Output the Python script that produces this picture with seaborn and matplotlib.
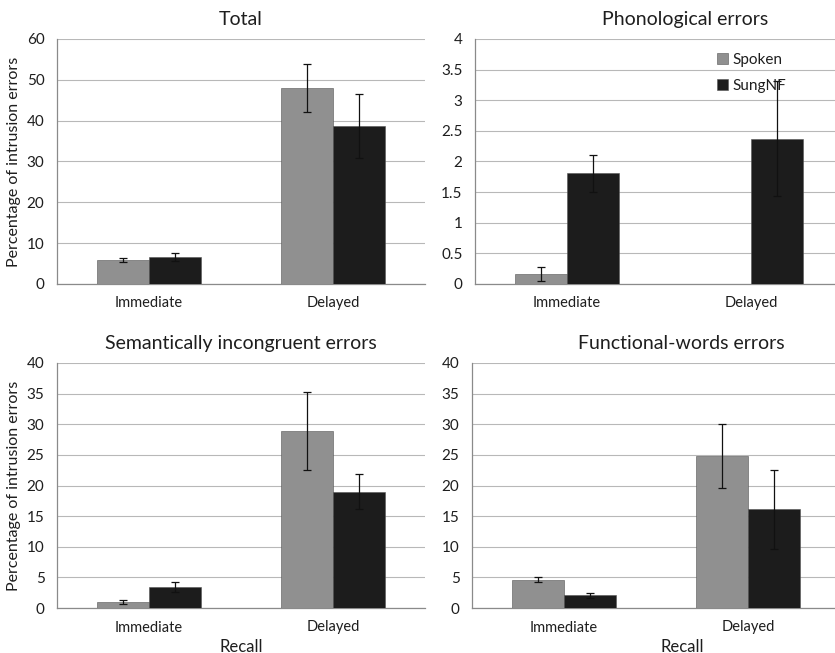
import matplotlib
matplotlib.use("Agg")
import matplotlib.pyplot as plt
import seaborn as sns
import pandas as pd

recall = ["Immediate", "Delayed"]
conditions = ["Spoken", "SungNF"]

total_spoken = [5.8, 48.0]
total_sung = [6.6, 38.7]
total_spoken_err = [0.5, 5.9]
total_sung_err = [1.0, 7.8]

phon_spoken = [0.16, 0.0]
phon_sung = [1.81, 2.37]
phon_spoken_err = [0.11, 0.0]
phon_sung_err = [0.30, 0.94]

sem_spoken = [1.0, 28.9]
sem_sung = [3.4, 19.0]
sem_spoken_err = [0.3, 6.3]
sem_sung_err = [0.8, 2.9]

func_spoken = [4.6, 24.8]
func_sung = [2.1, 16.1]
func_spoken_err = [0.4, 5.2]
func_sung_err = [0.4, 6.4]

titles = ["Total", "Phonological errors", "Semantically incongruent errors", "Functional-words errors"]
y_max = [60, 4, 40, 40]
y_step = [10, 0.5, 5, 5]

panels = [
    (total_spoken, total_sung, total_spoken_err, total_sung_err),
    (phon_spoken, phon_sung, phon_spoken_err, phon_sung_err),
    (sem_spoken, sem_sung, sem_spoken_err, sem_sung_err),
    (func_spoken, func_sung, func_spoken_err, func_sung_err),
]

sns.set_theme(style="white")
plt.rcParams["font.family"] = ["Lato", "DejaVu Sans"]
text_color = "#1e1e1e"

fig = plt.figure(figsize=(8.35, 6.53), dpi=100)
W, H = 835, 653
# axes rectangles in pixels: left, top, width, height
rects = [(57, 39, 368, 245), (475, 39, 368, 245), (57, 363, 368, 245), (472, 363, 368, 245)]
palette = {"Spoken": "#909090", "SungNF": "#1c1c1c"}

for i, (rect, (sp, su, spe, sue)) in enumerate(zip(rects, panels)):
    l, t, w, h = rect
    ax = fig.add_axes([l / W, 1 - (t + h) / H, w / W, h / H])
    df = pd.DataFrame({
        "Recall": recall * 2,
        "Condition": [conditions[0]] * 2 + [conditions[1]] * 2,
        "Value": sp + su,
    })
    sns.barplot(data=df, x="Recall", y="Value", hue="Condition", order=recall,
                hue_order=conditions, palette=palette, width=0.565, gap=0,
                errorbar=None, ax=ax, edgecolor="#555555", linewidth=0.4,
                legend=(i == 1), zorder=3)
    errs = [spe, sue]
    bar_containers = list(ax.containers)
    for c, cont in enumerate(bar_containers):
        for j, bar in enumerate(cont):
            e = errs[c][j]
            if e <= 0:
                continue
            xc = bar.get_x() + bar.get_width() / 2
            ax.errorbar(xc, bar.get_height(), yerr=e, fmt="none", ecolor="#111111",
                        elinewidth=0.9, capsize=3, capthick=0.9, zorder=4)
    ax.set_xlim(-0.5, 1.5)
    ax.set_ylim(0, y_max[i])
    ticks = [k * y_step[i] for k in range(int(round(y_max[i] / y_step[i])) + 1)]
    ax.set_yticks(ticks)
    ax.set_yticklabels([("%g" % v) for v in ticks], fontsize=11, color=text_color)
    ax.set_xticks([0, 1])
    ax.set_xticklabels(recall, fontsize=10.5, color=text_color)
    ax.set_xticks([-0.5, 0.5, 1.5], minor=True)
    ax.tick_params(axis="x", which="major", length=0, pad=9)
    ax.tick_params(axis="x", which="minor", length=4, width=0.8, color="#888888", direction="out")
    ax.tick_params(axis="y", which="major", length=4, width=0.8, color="#888888", direction="out", pad=5)
    ax.yaxis.grid(True, color="#b8b8b8", linewidth=0.8, zorder=0)
    ax.set_axisbelow(True)
    for s in ["top", "right"]:
        ax.spines[s].set_visible(False)
    for s in ["left", "bottom"]:
        ax.spines[s].set_color("#8a8a8a")
        ax.spines[s].set_linewidth(0.9)
    tx = 0.5 if i % 2 == 0 else 0.57
    ax.set_title(titles[i], fontsize=14, color=text_color, x=tx, pad=10)
    if i % 2 == 0:
        ax.set_ylabel("Percentage of intrusion errors", fontsize=11.5, color=text_color, labelpad=4)
    else:
        ax.set_ylabel("")
    if i >= 2:
        ax.set_xlabel("Recall", fontsize=12, color=text_color)
        ax.xaxis.set_label_coords(tx, -0.125)
    else:
        ax.set_xlabel("")
    if i == 1:
        leg = ax.legend(loc="upper left", bbox_to_anchor=(0.62, 1.0), frameon=False,
                        fontsize=11, handlelength=0.7, handleheight=0.7,
                        handletextpad=0.3, labelspacing=0.8, title=None)
        for txt in leg.get_texts():
            txt.set_color(text_color)

fig.savefig("out.png", dpi=100)
